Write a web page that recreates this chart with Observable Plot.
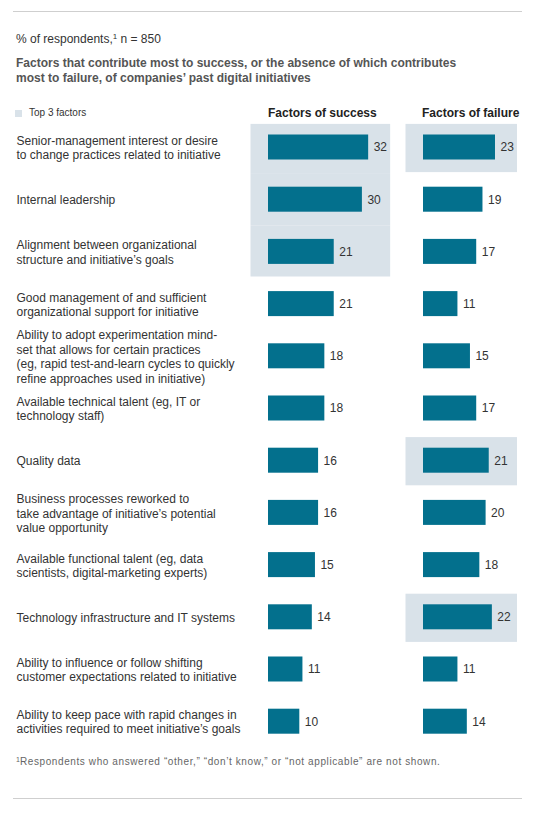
<!DOCTYPE html>
<html>
<head>
<meta charset="utf-8">
<script src="https://cdn.jsdelivr.net/npm/d3@7"></script>
<script src="https://cdn.jsdelivr.net/npm/@observablehq/plot@0.6"></script>
<style>
  body { margin: 0; background: #fff; font-family: "Liberation Sans", Arial, Helvetica, sans-serif; }
  #page { position: relative; width: 533px; height: 817px; overflow: hidden; }
  .abs { position: absolute; white-space: nowrap; line-height: 1; }
  .rule { position: absolute; left: 13px; width: 509px; height: 1px; background: #cfcfcf; }
  #chart { position: absolute; left: 0; top: 120px; }
</style>
</head>
<body>
<div id="page">
  <div class="rule" style="top:11px"></div>
  <div class="abs" style="left:16px;top:33.2px;font-size:12px;color:#333">% of respondents,<span style="font-size:8px;vertical-align:4px">1</span> n = 850</div>
  <div class="abs" style="left:16px;top:56.2px;font-size:12px;line-height:14.6px;font-weight:bold;color:#555">Factors that contribute most to success, or the absence of which contributes<br>most to failure, of companies’ past digital initiatives</div>
  <div class="abs" style="left:15px;top:109.5px;width:7px;height:7px;background:#d9e2e9"></div>
  <div class="abs" style="left:29px;top:108.3px;font-size:10px;color:#333">Top 3 factors</div>
  <div class="abs" style="left:268px;top:106.5px;font-size:12px;font-weight:bold;color:#222">Factors of success</div>
  <div class="abs" style="left:422px;top:106.5px;font-size:12px;font-weight:bold;color:#222">Factors of failure</div>
  <div id="chart"></div>
  <div class="abs" style="left:16px;top:755.5px;font-size:10px;letter-spacing:0.6px;color:#666"><span style="font-size:7px;vertical-align:3px;letter-spacing:0">1</span>Respondents who answered “other,” “don’t know,” or “not applicable” are not shown.</div>
  <div class="rule" style="top:798px"></div>
</div>
<script>
const factors = [
  "Senior-management interest or desire\nto change practices related to initiative",
  "Internal leadership",
  "Alignment between organizational\nstructure and initiative’s goals",
  "Good management of and sufficient\norganizational support for initiative",
  "Ability to adopt experimentation mind-\nset that allows for certain practices\n(eg, rapid test-and-learn cycles to quickly\nrefine approaches used in initiative)",
  "Available technical talent (eg, IT or\ntechnology staff)",
  "Quality data",
  "Business processes reworked to\ntake advantage of initiative’s potential\nvalue opportunity",
  "Available functional talent (eg, data\nscientists, digital-marketing experts)",
  "Technology infrastructure and IT systems",
  "Ability to influence or follow shifting\ncustomer expectations related to initiative",
  "Ability to keep pace with rapid changes in\nactivities required to meet initiative’s goals"
];
const successValues = [32, 30, 21, 21, 18, 18, 16, 16, 15, 14, 11, 10];
const failureValues = [23, 19, 17, 11, 15, 17, 21, 20, 18, 22, 11, 14];
const columns = ["Factors of success", "Factors of failure"];
const topSuccess = [0, 1, 2];
const topFailure = [0, 6, 9];

const BAR = "#03708d";
const HL = "#d9e2e9";

const seriesByColumn = {
  [columns[0]]: {values: successValues, top: topSuccess},
  [columns[1]]: {values: failureValues, top: topFailure}
};

const rows = [];
for (const column of columns) {
  const {values, top} = seriesByColumn[column];
  factors.forEach((factor, i) => {
    rows.push({
      factor, column, value: values[i], i,
      top: top.includes(i),
      prevTop: top.includes(i - 1),
      nextTop: top.includes(i + 1),
      colMax: d3.max(values)
    });
  });
}
const hl = rows.filter(d => d.top);

function highlight(filterFn, insetTop, insetBottom) {
  return Plot.barX(hl.filter(filterFn), {
    fx: "column", y: "factor", x1: 0, x2: "colMax",
    fill: HL, insetTop, insetBottom, insetLeft: -17.5, insetRight: -22
  });
}

const chart = Plot.plot({
  width: 533,
  height: 632,
  marginLeft: 250, marginRight: 0, marginTop: 0, marginBottom: 0,
  style: {fontFamily: '"Liberation Sans", Arial, Helvetica, sans-serif', fontSize: "12px", color: "#333", background: "transparent", overflow: "visible"},
  fx: {domain: columns, range: [250, 560], padding: 0, round: false, axis: null},
  x: {domain: [0, 40], range: [268, 393.2], axis: null},
  y: {domain: factors, range: [0.9, 627.3], padding: 0, round: false},
  marks: [
    highlight(d => !d.prevTop && !d.nextTop, 3, 1),
    highlight(d => !d.prevTop && d.nextTop, 3, 0),
    highlight(d => d.prevTop && d.nextTop, 0, 0),
    highlight(d => d.prevTop && !d.nextTop, 0, 1),
    Plot.barX(rows, {fx: "column", y: "factor", x1: 0, x2: "value", fill: BAR, insetTop: 13.6, insetBottom: 13.6}),
    Plot.text(rows, {fx: "column", y: "factor", x: "value", text: d => String(d.value), dx: 5, textAnchor: "start", fontSize: 12, fill: "#333"}),
    Plot.axisY({anchor: "left", tickSize: 0, tickPadding: 0, textAnchor: "start", dx: -234, fontSize: 12, fill: "#333", lineHeight: 1.2, label: null})
  ]
});
document.getElementById("chart").appendChild(chart);
</script>
</body>
</html>
